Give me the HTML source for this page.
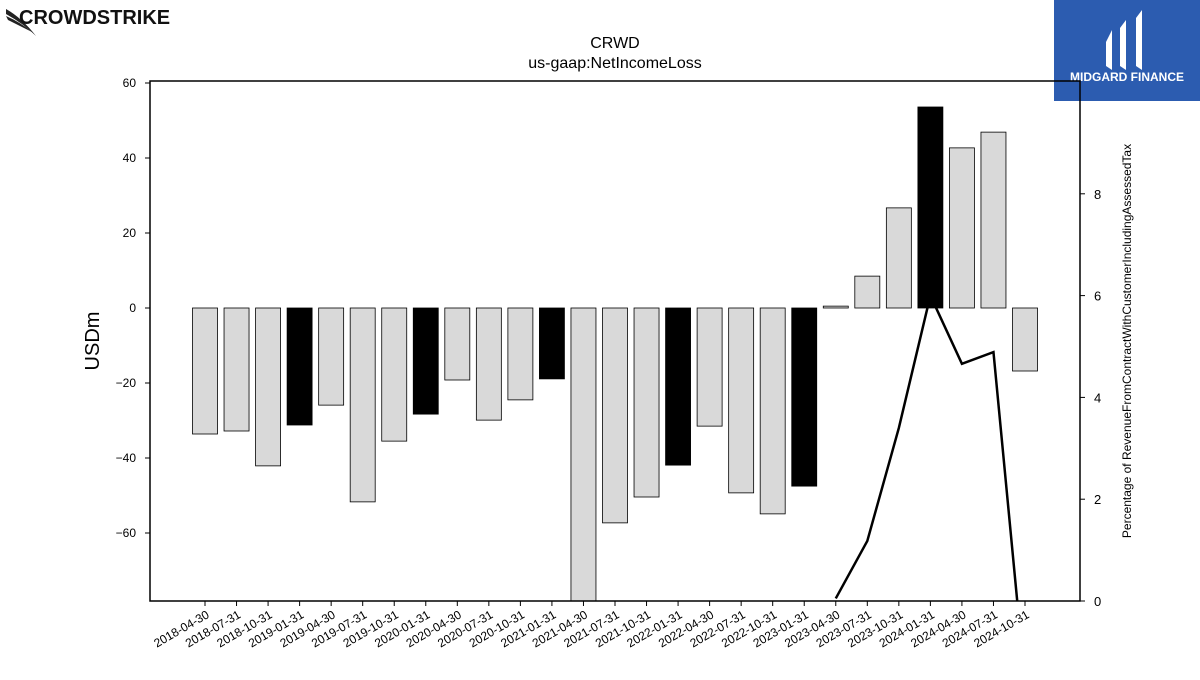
<!DOCTYPE html>
<html><head><meta charset="utf-8"><style>
body{margin:0;width:1200px;height:675px;background:#fff;overflow:hidden;font-family:"Liberation Sans",sans-serif}
</style></head><body>
<svg id="chart" width="1200" height="675" xmlns="http://www.w3.org/2000/svg">
  <g>
    <path d="M6 9 Q22 18 36 36 Q24 24 6 14Z" fill="#222"/>
    <path d="M6 16 Q20 22 32 32 Q20 26 8 20Z" fill="#222"/>
    <text x="19" y="24" font-size="20" font-weight="bold" fill="#111">CROWDSTRIKE</text>
  </g>
  <g>
    <rect x="1054" y="0" width="146" height="101" fill="#2c5cb0"/>
    <path d="M1106 42 L1112 30 L1112 70 L1106 66Z M1120 28 L1126 20 L1126 70 L1120 66Z M1136 18 L1142 10 L1142 70 L1136 66Z" fill="#fff"/>
    <text x="1127" y="81" font-size="12" font-weight="bold" fill="#fff" text-anchor="middle">MIDGARD FINANCE</text>
  </g>
  <text x="615" y="48" font-size="16" text-anchor="middle">CRWD</text>
  <text x="615" y="68" font-size="16" text-anchor="middle">us-gaap:NetIncomeLoss</text>
  <defs><clipPath id="pc"><rect x="150" y="81" width="930" height="520"/></clipPath></defs>
  <g id="bars" clip-path="url(#pc)"></g>
  <g id="line" clip-path="url(#pc)"></g>
  <rect x="150" y="81" width="930" height="520" fill="none" stroke="#000" stroke-width="1.5"/>
  <g id="axes"></g>
  <text transform="translate(99,341) rotate(-90)" font-size="20" text-anchor="middle">USDm</text>
  <text transform="translate(1131,341) rotate(-90)" font-size="12" text-anchor="middle">Percentage of RevenueFromContractWithCustomerIncludingAssessedTax</text>
</svg>
<script>
const categories=["2018-04-30","2018-07-31","2018-10-31","2019-01-31","2019-04-30","2019-07-31","2019-10-31","2020-01-31","2020-04-30","2020-07-31","2020-10-31","2021-01-31","2021-04-30","2021-07-31","2021-10-31","2022-01-31","2022-04-30","2022-07-31","2022-10-31","2023-01-31","2023-04-30","2023-07-31","2023-10-31","2024-01-31","2024-04-30","2024-07-31","2024-10-31"];
const netIncome=[-33.6,-32.8,-42.1,-31.2,-25.9,-51.7,-35.5,-28.3,-19.2,-29.9,-24.5,-18.9,-92,-57.3,-50.4,-41.9,-31.5,-49.3,-54.9,-47.5,0.5,8.5,26.7,53.6,42.7,46.9,-16.8];
const pctRevenue=[null,null,null,null,null,null,null,null,null,null,null,null,null,null,null,null,null,null,null,null,0.05,1.18,3.4,6.0,4.66,4.89,-1.6];
const yTicks=[60,40,20,0,-20,-40,-60];
const y2Ticks=[0,2,4,6,8];
const NS="http://www.w3.org/2000/svg";
const x=i=>205+i*(820/(categories.length-1));
const y=v=>308-v*3.75;
const y2=v=>601-v*50.9;
function mk(t,a,p){const e=document.createElementNS(NS,t);for(const k in a)e.setAttribute(k,a[k]);p.appendChild(e);return e;}
const bars=document.getElementById('bars'),axes=document.getElementById('axes'),line=document.getElementById('line');
categories.forEach((c,i)=>{
  const v=netIncome[i];const fy=c.endsWith('01-31');
  const r=mk('rect',{x:x(i)-12.5,y:Math.min(y(v),y(0)),width:25,height:Math.abs(y(v)-y(0)),fill:fy?'#000':'#d9d9d9',stroke:'#000','stroke-width':0.8},bars);
  
  
  mk('line',{x1:x(i),x2:x(i),y1:601,y2:606,stroke:'#000'},axes);
  const t=mk('text',{x:0,y:0,'font-size':12,'text-anchor':'end',transform:`translate(${x(i)+5},617) rotate(-30)`},axes);
  t.textContent=c;
  
  
});
yTicks.forEach(v=>{
  mk('line',{x1:145,x2:150,y1:y(v),y2:y(v),stroke:'#000'},axes);
  const t=mk('text',{x:136,y:y(v)+4,'font-size':12,'text-anchor':'end'},axes);
  t.textContent=v<0?'\u2212'+(-v):v;
  
  
});
y2Ticks.forEach(v=>{
  mk('line',{x1:1080,x2:1085,y1:y2(v),y2:y2(v),stroke:'#000'},axes);
  const t=mk('text',{x:1094,y:y2(v)+5,'font-size':13},axes);
  t.textContent=v;
  
  
});
let d='';pctRevenue.forEach((v,i)=>{if(v===null)return;d+=(d?'L':'M')+x(i)+' '+y2(v)+' ';});
const p=mk('path',{d:d,fill:'none',stroke:'#000','stroke-width':2.5},line);


</script>
</body></html>
